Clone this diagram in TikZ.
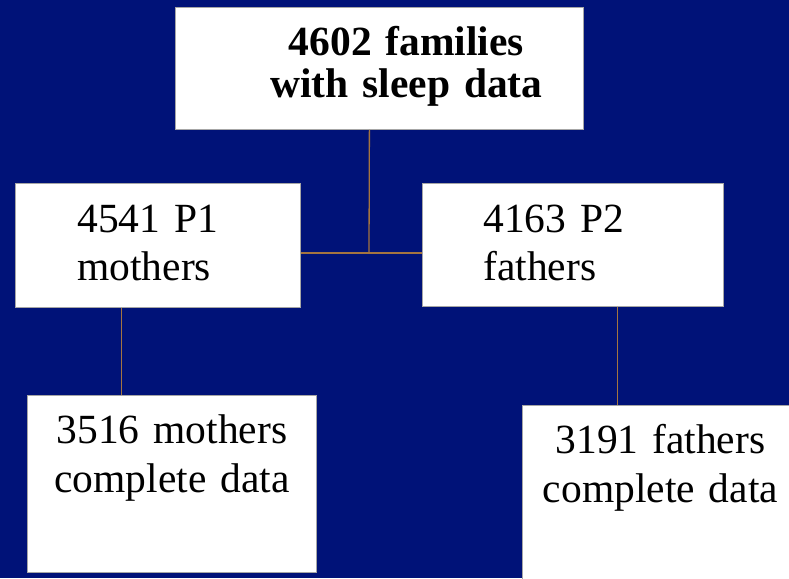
\documentclass[tikz,border=0pt]{standalone}
\usepackage{fontspec}
\setmainfont{Liberation Serif}
\usetikzlibrary{shadows}
\definecolor{navy}{RGB}{0,18,120}
\definecolor{linkbrown}{RGB}{164,116,64}

\begin{document}
\begin{tikzpicture}[x=1pt, y=-1pt,
  box/.style={draw=gray!70, line width=0.8pt, fill=white, anchor=north west,
              inner ysep=0pt, text height=48pt,
              drop shadow={shadow xshift=1pt, shadow yshift=-1pt, fill=black, opacity=1}},
  boxfont/.style={font=\fontsize{41.5}{#1}\selectfont},
  link/.style={linkbrown, line width=1.3pt}
]
  % Page background
  \useasboundingbox (0,0) rectangle (789,578);
  \fill[navy] (0,0) rectangle (789,578);
  \clip (0,0) rectangle (789,578);

  % Top level: all families
  \node[box, inner xsep=0pt, text width=408pt, text depth=74pt, align=center,
        font=\fontsize{41.5}{42}\selectfont\bfseries] (families) at (175,7)
    {\hspace*{54pt}4602 families\\\hspace*{54pt}with sleep data};

  % Parents
  \node[box, boxfont=48, inner xsep=62pt, text width=161pt, text height=49pt,
        text depth=75pt, align=left] (mothers) at (15,183)
    {4541 P1\\mothers};
  \node[box, boxfont=48, inner xsep=61pt, text width=179pt, text height=49pt,
        text depth=74pt, align=left] (fathers) at (422,183)
    {4163 P2\\fathers};

  % Complete data
  \node[box, boxfont=49, inner xsep=0pt, text width=289pt, text depth=129pt,
        align=center] (mothersdone) at (27,395)
    {3516 mothers\\complete data};
  \node[box, boxfont=49, inner xsep=0pt, text width=276pt, text depth=157pt,
        align=center] (fathersdone) at (522,405)
    {3191 fathers\\complete data};

  % Connectors
  \coordinate (join) at (369,253);
  \coordinate (mdrop) at ([xshift=-36.5pt]mothers.south);
  \coordinate (fdrop) at ([xshift=44.5pt]fathers.south);
  \draw[link] ([xshift=-10pt]families.south) -- (join);
  \draw[link] (join -| mothers.east) -- (join -| fathers.west);
  \draw[link] (mdrop) -- (mdrop |- mothersdone.north);
  \draw[link] (fdrop) -- (fdrop |- fathersdone.north);
\end{tikzpicture}
\end{document}
